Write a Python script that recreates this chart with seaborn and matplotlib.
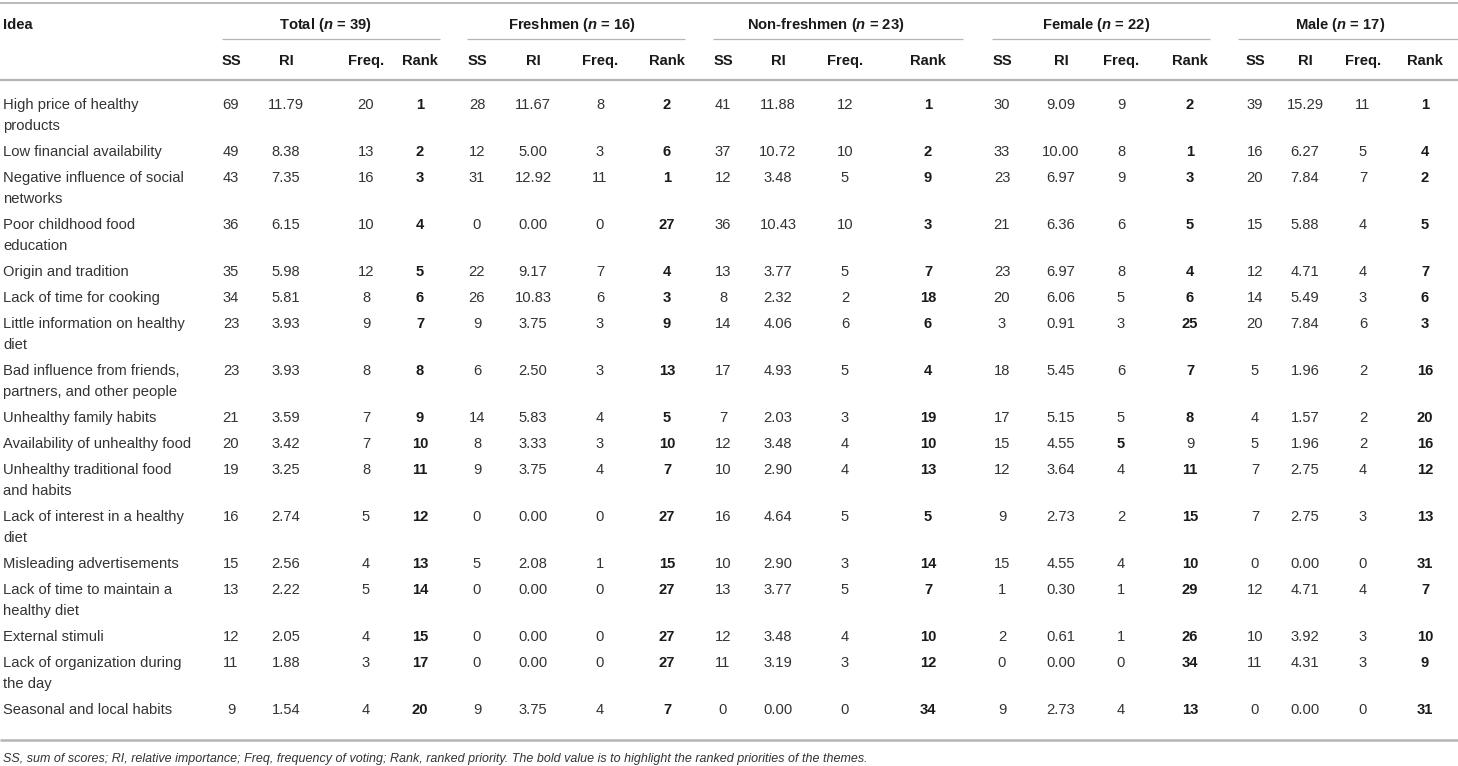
import matplotlib
matplotlib.use("Agg")
import matplotlib.pyplot as plt
import seaborn as sns

sns.set_theme(style="white")
plt.rcParams["font.family"] = ["Liberation Sans", "DejaVu Sans"]
plt.rcParams["mathtext.fontset"] = "custom"
plt.rcParams["mathtext.rm"] = "Liberation Sans"
plt.rcParams["mathtext.bfit"] = "Liberation Sans:italic:bold"

# Table content
ideas = [
    "High price of healthy\nproducts",
    "Low financial availability",
    "Negative influence of social\nnetworks",
    "Poor childhood food\neducation",
    "Origin and tradition",
    "Lack of time for cooking",
    "Little information on healthy\ndiet",
    "Bad influence from friends,\npartners, and other people",
    "Unhealthy family habits",
    "Availability of unhealthy food",
    "Unhealthy traditional food\nand habits",
    "Lack of interest in a healthy\ndiet",
    "Misleading advertisements",
    "Lack of time to maintain a\nhealthy diet",
    "External stimuli",
    "Lack of organization during\nthe day",
    "Seasonal and local habits",
]

groups = ["Total", "Freshmen", "Non-freshmen", "Female", "Male"]
group_n = [39, 16, 23, 22, 17]
sub_cols = ["SS", "RI", "Freq.", "Rank"]

total_ss = [69, 49, 43, 36, 35, 34, 23, 23, 21, 20, 19, 16, 15, 13, 12, 11, 9]
total_ri = ["11.79", "8.38", "7.35", "6.15", "5.98", "5.81", "3.93", "3.93", "3.59",
            "3.42", "3.25", "2.74", "2.56", "2.22", "2.05", "1.88", "1.54"]
total_freq = [20, 13, 16, 10, 12, 8, 9, 8, 7, 7, 8, 5, 4, 5, 4, 3, 4]
total_rank = [1, 2, 3, 4, 5, 6, 7, 8, 9, 10, 11, 12, 13, 14, 15, 17, 20]

fresh_ss = [28, 12, 31, 0, 22, 26, 9, 6, 14, 8, 9, 0, 5, 0, 0, 0, 9]
fresh_ri = ["11.67", "5.00", "12.92", "0.00", "9.17", "10.83", "3.75", "2.50", "5.83",
            "3.33", "3.75", "0.00", "2.08", "0.00", "0.00", "0.00", "3.75"]
fresh_freq = [8, 3, 11, 0, 7, 6, 3, 3, 4, 3, 4, 0, 1, 0, 0, 0, 4]
fresh_rank = [2, 6, 1, 27, 4, 3, 9, 13, 5, 10, 7, 27, 15, 27, 27, 27, 7]

nonfresh_ss = [41, 37, 12, 36, 13, 8, 14, 17, 7, 12, 10, 16, 10, 13, 12, 11, 0]
nonfresh_ri = ["11.88", "10.72", "3.48", "10.43", "3.77", "2.32", "4.06", "4.93", "2.03",
               "3.48", "2.90", "4.64", "2.90", "3.77", "3.48", "3.19", "0.00"]
nonfresh_freq = [12, 10, 5, 10, 5, 2, 6, 5, 3, 4, 4, 5, 3, 5, 4, 3, 0]
nonfresh_rank = [1, 2, 9, 3, 7, 18, 6, 4, 19, 10, 13, 5, 14, 7, 10, 12, 34]

female_ss = [30, 33, 23, 21, 23, 20, 3, 18, 17, 15, 12, 9, 15, 1, 2, 0, 9]
female_ri = ["9.09", "10.00", "6.97", "6.36", "6.97", "6.06", "0.91", "5.45", "5.15",
             "4.55", "3.64", "2.73", "4.55", "0.30", "0.61", "0.00", "2.73"]
female_freq = [9, 8, 9, 6, 8, 5, 3, 6, 5, 5, 4, 2, 4, 1, 1, 0, 4]
female_rank = [2, 1, 3, 5, 4, 6, 25, 7, 8, 9, 11, 15, 10, 29, 26, 34, 13]

male_ss = [39, 16, 20, 15, 12, 14, 20, 5, 4, 5, 7, 7, 0, 12, 10, 11, 0]
male_ri = ["15.29", "6.27", "7.84", "5.88", "4.71", "5.49", "7.84", "1.96", "1.57",
           "1.96", "2.75", "2.75", "0.00", "4.71", "3.92", "4.31", "0.00"]
male_freq = [11, 5, 7, 4, 4, 3, 6, 2, 2, 2, 4, 3, 0, 4, 3, 3, 0]
male_rank = [1, 4, 2, 5, 7, 6, 3, 16, 20, 16, 12, 13, 31, 7, 10, 9, 31]

group_data = [
    [total_ss, total_ri, total_freq, total_rank],
    [fresh_ss, fresh_ri, fresh_freq, fresh_rank],
    [nonfresh_ss, nonfresh_ri, nonfresh_freq, nonfresh_rank],
    [female_ss, female_ri, female_freq, female_rank],
    [male_ss, male_ri, male_freq, male_rank],
]

# (group, row, column) cells set in bold outside the Rank column / normal inside it
bold_extra = [(3, 9, 2)]
normal_extra = [(3, 9, 3)]

footnote = ("SS, sum of scores; RI, relative importance; Freq, frequency of voting; "
            "Rank, ranked priority. The bold value is to highlight the ranked "
            "priorities of the themes.")

# Layout (pixel coordinates)
col_x = [
    [231, 286, 366, 420],
    [477, 533, 600, 667],
    [723, 778, 845, 928],
    [1002, 1061, 1121, 1190],
    [1255, 1305, 1363, 1425],
]
group_span = [(222, 440), (467, 685), (713, 963), (992, 1210), (1238, 1458)]
fs = 10.6
body_color = "#333333"
head_color = "#1a1a1a"
rule_color = "#b5b5b5"
base_off = 5

fig = plt.figure(figsize=(14.58, 7.66), dpi=100)
ax = fig.add_axes([0, 0, 1, 1])
ax.set_xlim(0, 1458)
ax.set_ylim(766, 0)
ax.axis("off")

# Rules
ax.plot([0, 1458], [3, 3], color=rule_color, lw=1.3, solid_capstyle="butt")
ax.plot([0, 1458], [80, 80], color=rule_color, lw=1.6, solid_capstyle="butt")
ax.plot([0, 1458], [740, 740], color=rule_color, lw=1.8, solid_capstyle="butt")
for x0, x1 in group_span:
    ax.plot([x0, x1], [39, 39], color=rule_color, lw=0.9, solid_capstyle="butt")

# Header
ax.text(3, 24 + base_off, "Idea", fontsize=fs, fontweight="bold", color=head_color,
        ha="left", va="baseline")
for gi, name in enumerate(groups):
    cx = (col_x[gi][0] + col_x[gi][3]) / 2
    label = f"{name} ($\\mathbfit{{n}}$ = {group_n[gi]})"
    ax.text(cx, 24 + base_off, label, fontsize=fs, fontweight="bold",
            color=head_color, ha="center", va="baseline")
    for ci, sub in enumerate(sub_cols):
        ax.text(col_x[gi][ci], 60 + base_off, sub, fontsize=fs, fontweight="bold",
                color=head_color, ha="center", va="baseline")

# Body rows
y = 104
for ri, idea in enumerate(ideas):
    lines = idea.split("\n")
    for li, line in enumerate(lines):
        ax.text(3, y + li * 21 + base_off, line, fontsize=fs, color=body_color,
                ha="left", va="baseline")
    for gi, cols in enumerate(group_data):
        for ci, values in enumerate(cols):
            bold = ci == 3
            if (gi, ri, ci) in bold_extra:
                bold = True
            if (gi, ri, ci) in normal_extra:
                bold = False
            ax.text(col_x[gi][ci], y + base_off, str(values[ri]), fontsize=fs,
                    fontweight="bold" if bold else "normal",
                    color=head_color if bold else body_color,
                    ha="center", va="baseline")
    y += 26 + 21 * (len(lines) - 1)

ax.text(3, 758 + base_off - 1, footnote, fontsize=9.0, style="italic",
        color=body_color, ha="left", va="baseline")

fig.savefig("out.png", dpi=100)
